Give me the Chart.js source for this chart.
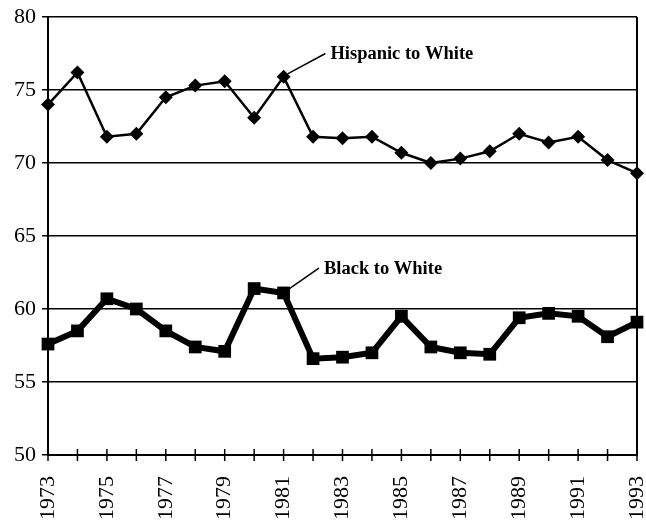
<!DOCTYPE html>
<html>
<head>
<meta charset="utf-8">
<script src="https://cdn.jsdelivr.net/npm/chart.js@4/dist/chart.umd.min.js"></script>
<style>
  html, body { margin: 0; padding: 0; background: #fff; }
  #wrap { width: 646px; height: 527px; position: relative; }
</style>
</head>
<body>
<div id="wrap"><canvas id="c" width="646" height="527"></canvas></div>
<script>
const years = ['1973','1974','1975','1976','1977','1978','1979','1980','1981','1982','1983','1984','1985','1986','1987','1988','1989','1990','1991','1992','1993'];
const tickYears = ['1973','1975','1977','1979','1981','1983','1985','1987','1989','1991','1993'];
const hispanicToWhite = [74.0,76.2,71.8,72.0,74.5,75.3,75.6,73.1,75.9,71.8,71.7,71.8,70.7,70.0,70.3,70.8,72.0,71.4,71.8,70.2,69.3];
const blackToWhite = [57.6,58.5,60.7,60.0,58.5,57.4,57.1,61.4,61.1,56.6,56.7,57.0,59.5,57.4,57.0,56.9,59.4,59.7,59.5,58.1,59.1];
const yTicks = [50,55,60,65,70,75,80];
const seriesNames = ['Hispanic to White','Black to White'];
// label anchors in data units: [category index, value]
const labelAnchors = [[9.42, 77.5],[9.2, 62.8]];
const labelSourceIndex = 8; // 1981 point

const FONT = "'Liberation Serif', 'Times New Roman', serif";

const framePlugin = {
  id: 'frame',
  afterDraw(chart) {
    const {ctx, chartArea: a, scales: {x, y}} = chart;
    ctx.save();
    ctx.strokeStyle = '#000';
    // right border
    ctx.lineWidth = 2;
    ctx.beginPath();
    ctx.moveTo(a.right, a.top);
    ctx.lineTo(a.right, a.bottom);
    ctx.stroke();
    // crossing ticks on x axis
    ctx.lineWidth = 1.5;
    for (let i = 0; i < years.length; i++) {
      const px = x.getPixelForTick(i);
      ctx.beginPath();
      ctx.moveTo(px, a.bottom - 6);
      ctx.lineTo(px, a.bottom + 6);
      ctx.stroke();
    }
    // annotations
    ctx.font = "bold 18.5px " + FONT;
    ctx.fillStyle = '#000';
    ctx.textBaseline = 'middle';
    chart.data.datasets.forEach((ds, di) => {
      const meta = chart.getDatasetMeta(di);
      const pt = meta.data[labelSourceIndex];
      const ax = x.getPixelForValue(labelAnchors[di][0]);
      const ay = y.getPixelForValue(labelAnchors[di][1]);
      ctx.lineWidth = 1.5;
      ctx.beginPath();
      ctx.moveTo(pt.x + 4, pt.y - 3);
      ctx.lineTo(ax, ay);
      ctx.stroke();
      ctx.fillText(seriesNames[di], ax + 5, ay + 1);
    });
    ctx.restore();
  }
};

new Chart(document.getElementById('c'), {
  type: 'line',
  data: {
    labels: years,
    datasets: [
      {
        label: seriesNames[0],
        data: hispanicToWhite,
        borderColor: '#000',
        backgroundColor: '#000',
        borderWidth: 2.5,
        pointStyle: 'rectRot',
        pointRadius: 7,
        pointBorderWidth: 0,
        tension: 0
      },
      {
        label: seriesNames[1],
        data: blackToWhite,
        borderColor: '#000',
        backgroundColor: '#000',
        borderWidth: 6,
        pointStyle: 'rect',
        pointRadius: 9,
        pointBorderWidth: 0,
        tension: 0
      }
    ]
  },
  options: {
    responsive: false,
    animation: false,
    devicePixelRatio: 1,
    layout: { padding: { left: 0, right: 9, top: 17, bottom: 0 } },
    plugins: { legend: { display: false }, tooltip: { enabled: false } },
    scales: {
      x: {
        type: 'category',
        offset: false,
        grid: { display: false },
        border: { display: true, color: '#000', width: 2 },
        ticks: {
          autoSkip: false,
          maxRotation: 90,
          minRotation: 90,
          padding: 13,
          color: '#000',
          font: { family: FONT, size: 22 },
          callback: function(v, i) { const l = this.getLabelForValue(v); return tickYears.includes(l) ? l : ''; }
        },
        afterFit(s) { s.height = 72; s.paddingLeft = 0; s.paddingRight = 0; }
      },
      y: {
        min: 50,
        max: 80,
        afterBuildTicks(s) { s.ticks = yTicks.map(v => ({ value: v })); },
        grid: { color: '#000', lineWidth: 1.5, tickLength: 6, drawTicks: true },
        border: { display: true, color: '#000', width: 2 },
        ticks: {
          color: '#000',
          padding: 6,
          font: { family: FONT, size: 22 }
        },
        afterFit(s) { s.width = 48; s.paddingTop = 0; s.paddingBottom = 0; }
      }
    }
  },
  plugins: [framePlugin]
});
</script>
</body>
</html>
